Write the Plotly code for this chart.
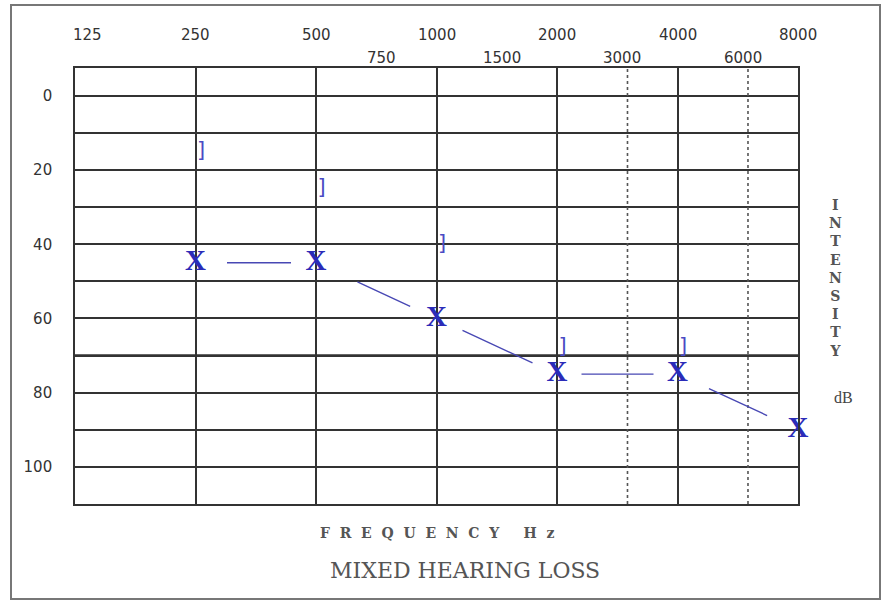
import numpy as np
import plotly.graph_objects as go

# ---- data ----
freqs = [250, 500, 1000, 2000, 4000, 8000]
air_db = [45, 45, 60, 75, 75, 90]
bone_freqs = [250, 500, 1000, 2000, 4000]
bone_db = [15, 25, 40, 68, 68]
top_labels = [125, 250, 500, 1000, 2000, 4000, 8000]
mid_labels = [750, 1500, 3000, 6000]
y_ticks = [0, 10, 20, 30, 40, 50, 60, 70, 80, 90, 100, 110]
y_ticktext = ["0", "", "20", "", "40", "", "60", "", "80", "", "100", ""]
grid_freqs = [250, 500, 1000, 2000, 4000]
dotted_freqs = [3000, 6000]

BLUE = "#2b2bb8"
LINE_BLUE = "#4848b4"
GRID = "#333333"

W, H = 883, 602
ML, MR, MT, MB = 75, 85, 68, 98
PW, PH = W - ML - MR, H - MT - MB

def px_to_paper_x(px):
    return (px - ML) / PW

def px_to_paper_y(py):
    return (H - MB - py) / PH

fig = go.Figure()

# air conduction X symbols
fig.add_trace(go.Scatter(
    x=freqs, y=air_db, mode="text", text=["X"] * len(freqs),
    textposition="middle center",
    textfont=dict(family="Liberation Serif", size=29, color=BLUE, weight="bold"),
    hoverinfo="skip", showlegend=False, cliponaxis=False,
))

# bone conduction brackets
fig.add_trace(go.Scatter(
    x=bone_freqs, y=bone_db, mode="text", text=["]"] * len(bone_freqs),
    textposition="middle right",
    textfont=dict(family="DejaVu Sans Mono", size=21, color="#4a4ac4"),
    hoverinfo="skip", showlegend=False, cliponaxis=False,
))

# connecting segments with gaps near markers
start_gap = [30, 44, 27, 23, 33]
end_gap = [25, 29, 27, 24, 34]
annotations = []
for i in range(len(freqs) - 1):
    annotations.append(dict(
        x=np.log10(freqs[i + 1]), y=air_db[i + 1],
        ax=np.log10(freqs[i]), ay=air_db[i],
        xref="x", yref="y", axref="x", ayref="y",
        text="", showarrow=True, arrowhead=0, arrowwidth=1.4,
        arrowcolor=LINE_BLUE, standoff=end_gap[i], startstandoff=start_gap[i],
    ))

tick_font = dict(family="DejaVu Sans", size=15, color="#333333")
for f in top_labels:
    annotations.append(dict(
        x=np.log10(f), y=px_to_paper_y(35), xref="x", yref="paper",
        text=str(f), showarrow=False, font=tick_font,
        xanchor="center", yanchor="middle", xshift=12 if f == 125 else 0,
    ))
for f in mid_labels:
    annotations.append(dict(
        x=np.log10(f), y=px_to_paper_y(58), xref="x", yref="paper",
        text=str(f), showarrow=False, font=tick_font,
        xanchor="center", yanchor="middle", xshift=-5,
    ))

serif = "DejaVu Serif"
annotations.append(dict(
    x=px_to_paper_x(835), y=px_to_paper_y(278), xref="paper", yref="paper",
    text="<br>".join(list("INTENSITY")), showarrow=False,
    font=dict(family=serif, size=14, color="#555555", weight="bold"), align="center",
    xanchor="center", yanchor="middle",
))
annotations.append(dict(
    x=px_to_paper_x(843), y=px_to_paper_y(397), xref="paper", yref="paper",
    text="dB", showarrow=False, font=dict(family="Liberation Serif", size=16, color="#444444"),
    xanchor="center", yanchor="middle",
))
annotations.append(dict(
    x=px_to_paper_x(437), y=px_to_paper_y(533), xref="paper", yref="paper",
    text="F&nbsp; R&nbsp; E&nbsp; Q&nbsp; U&nbsp; E&nbsp; N&nbsp; C&nbsp; Y&nbsp;&nbsp;&nbsp;&nbsp; H&nbsp; z",
    showarrow=False,
    font=dict(family=serif, size=14, color="#555555", weight="bold"),
    xanchor="center", yanchor="middle",
))
annotations.append(dict(
    x=px_to_paper_x(465), y=px_to_paper_y(570), xref="paper", yref="paper",
    text="MIXED HEARING LOSS", showarrow=False,
    font=dict(family=serif, size=22, color="#555555"),
    xanchor="center", yanchor="middle",
))

shapes = []
for f in dotted_freqs:
    shapes.append(dict(type="line", xref="x", yref="paper", x0=f, x1=f, y0=0, y1=1,
                       line=dict(color="#555555", width=1.6, dash="dot"), layer="above"))
# heavier 70 dB line
shapes.append(dict(type="line", xref="paper", yref="y", x0=0, x1=1, y0=70, y1=70,
                   line=dict(color="#666666", width=3), layer="below"))
# outer frame
shapes.append(dict(type="rect", xref="paper", yref="paper",
                   x0=px_to_paper_x(11), x1=px_to_paper_x(880),
                   y0=px_to_paper_y(599), y1=px_to_paper_y(5),
                   line=dict(color="#777777", width=2)))

fig.update_layout(
    width=W, height=H,
    margin=dict(l=ML, r=MR, t=MT, b=MB),
    paper_bgcolor="white", plot_bgcolor="white",
    xaxis=dict(type="log", range=[np.log10(125), np.log10(8000)],
               tickvals=grid_freqs, showticklabels=False, ticks="",
               showgrid=True, gridcolor=GRID, gridwidth=1.6,
               showline=True, linecolor=GRID, linewidth=1.6, mirror=True,
               zeroline=False, fixedrange=True),
    yaxis=dict(range=[110, -7.5], tickvals=y_ticks, ticktext=y_ticktext,
               showgrid=True, gridcolor=GRID, gridwidth=1.6,
               showline=True, linecolor=GRID, linewidth=1.6, mirror=True,
               ticks="", ticklabelstandoff=18, tickfont=tick_font,
               zeroline=False, fixedrange=True),
    annotations=annotations,
    shapes=shapes,
    showlegend=False,
)

fig.write_html(
    "out.html",
    config={"displayModeBar": False},
    post_script="document.body.style.margin='0px';document.body.style.overflow='hidden';",
)
